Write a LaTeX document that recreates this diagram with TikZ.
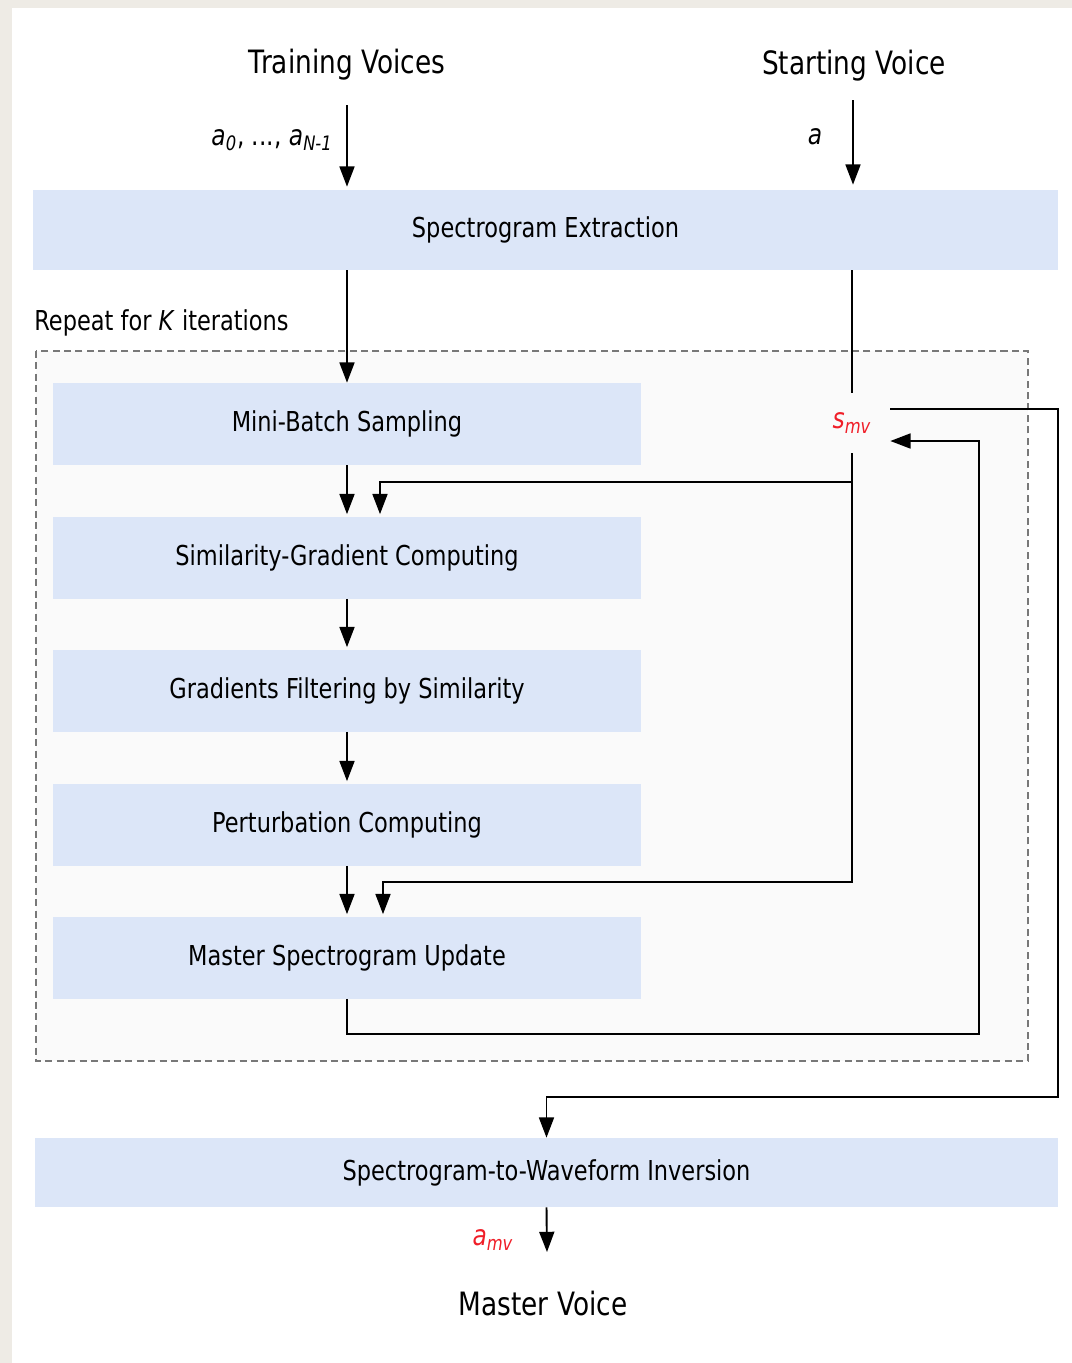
\documentclass[tikz,border=0pt]{standalone}
\usepackage{fontspec}
\setmainfont{DejaVu Sans}[FakeStretch=0.82]
\definecolor{boxblue}{RGB}{220,230,248}
\definecolor{repgray}{RGB}{120,120,120}
\definecolor{repfill}{RGB}{250,250,250}
\definecolor{outbg}{RGB}{238,235,229}
\definecolor{rojo}{RGB}{240,30,40}
\usetikzlibrary{arrows.meta,positioning,calc}

\begin{document}
\begin{tikzpicture}[x=0.02cm,y=-0.02cm,
      bx/.style={fill=boxblue,inner sep=0pt,minimum width=11.76cm,minimum height=1.64cm,
                 font=\fontsize{15.6}{18}\selectfont},
      ttl/.style={font=\fontsize{18.3}{21}\selectfont},
      lbl/.style={font=\fontsize{16.2}{18}\selectfont,inner sep=0pt},
      arr/.style={line width=1.1pt,-{Triangle[length=11.5pt,width=8.5pt]}},
      ln/.style={line width=1.1pt},
      rep/.style={draw=repgray,fill=repfill,line width=0.6pt,dash pattern=on 4pt off 2.5pt}]
      % background
      \fill[outbg] (0,0) rectangle (1072,1363);
      \fill[white] (12,8) rectangle (1072,1363);
      % inputs
      \node[ttl] (tv) at (347,65) {Training Voices};
      \node[ttl] (sv) at (854,66) {Starting Voice};
      \coordinate (tvin) at (347,105);
      \coordinate (svin) at (853,100);
      \node[lbl,anchor=east] (alist) at (333,140) {\textit{a}\textsubscript{\textit{0}}, ..., \textit{a}\textsubscript{\textit{N-1}}};
      \node[lbl] (a) at (815,137) {\textit{a}};
      % extraction
      \node[bx,minimum width=20.5cm,minimum height=1.6cm] (ext) at (545.5,230) {Spectrogram Extraction};
      % repeat block
      \node[lbl,font=\fontsize{15.6}{18}\selectfont,anchor=west] (rep) at (34,323) {Repeat for \textit{K} iterations};
      \draw[rep] (36,351) rectangle (1028,1061);
      \node[bx] (mb)  at (347,424)   {Mini-Batch Sampling};
      \node[bx] (sg)  at (347,557.5) {Similarity-Gradient Computing};
      \node[bx] (gf)  at (347,690.5) {Gradients Filtering by Similarity};
      \node[bx] (pc)  at (347,824.5) {Perturbation Computing};
      \node[bx] (msu) at (347,957.5) {Master Spectrogram Update};
      \node[lbl,text=rojo,minimum width=1.52cm,minimum height=1.2cm] (smv) at (852,423) {\textit{s}\textsubscript{\textit{mv}}};
      \coordinate (fbc) at (979,1034);
      \coordinate (outc) at (1058,1097);
      % inversion
      \node[bx,minimum width=20.46cm,minimum height=1.38cm] (inv) at (546.5,1172.5) {Spectrogram-to-Waveform Inversion};
      \node[lbl,text=rojo] (amv) at (493,1240) {\textit{a}\textsubscript{\textit{mv}}};
      \coordinate (mvin) at (547,1252);
      \node[ttl] (mv) at (543,1303) {Master Voice};
      % connectors
      \draw[arr] (tvin) -- ([yshift=0.06cm]tvin |- ext.north);
      \draw[arr] (svin) -- ([yshift=0.1cm]svin |- ext.north);
      \draw[arr] (ext.south -| mb.north) -- (mb.north);
      \draw[ln] (ext.south -| smv) -- (smv.north);
      \draw[arr] (mb.south) -- ([yshift=0.04cm]sg.north);
      \draw[arr] (sg.south) -- ([yshift=0.04cm]gf.north);
      \draw[arr] (gf.south) -- ([yshift=0.04cm]pc.north);
      \draw[arr] (pc.south) -- ([yshift=0.04cm]msu.north);
      \draw[arr] (smv.south) -- ++(0,29) -| ([xshift=0.66cm,yshift=0.04cm]sg.north);
      \draw[arr] (smv.south) -- ++(0,429) -| ([xshift=0.72cm,yshift=0.04cm]msu.north);
      \draw[arr] (msu.south) |- (fbc) |- ([yshift=-0.36cm]smv.east);
      \draw[arr] ([yshift=0.28cm]smv.east) -| (outc) -| (inv.north);
      \draw[arr] (inv.south) -- (mvin);
\end{tikzpicture}
\end{document}
